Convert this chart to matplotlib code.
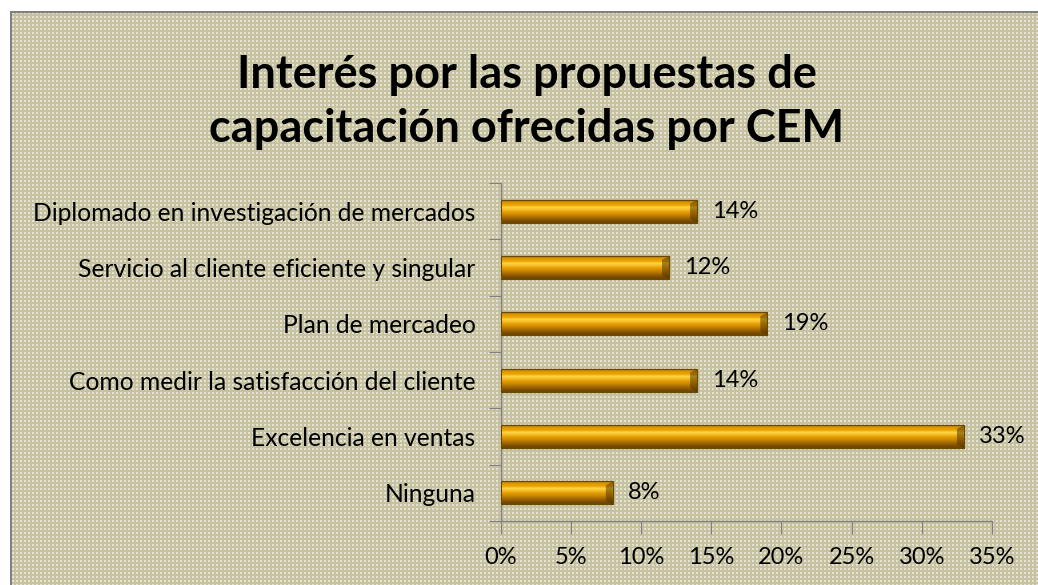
import numpy as np
import matplotlib.pyplot as plt
from matplotlib.colors import to_rgb
from matplotlib.patches import Polygon

# chart data (top to bottom as shown)
categories = [
    "Diplomado en investigación de mercados",
    "Servicio al cliente eficiente y singular",
    "Plan de mercadeo",
    "Como medir la satisfacción del cliente",
    "Excelencia en ventas",
    "Ninguna",
]
values = [0.14, 0.12, 0.19, 0.14, 0.33, 0.08]
value_labels = ["14%", "12%", "19%", "14%", "33%", "8%"]
xticks = [0, 0.05, 0.10, 0.15, 0.20, 0.25, 0.30, 0.35]
xtick_labels = ["0%", "5%", "10%", "15%", "20%", "25%", "30%", "35%"]
title = "Interés por las propuestas de\ncapacitación ofrecidas por CEM"

W, H = 1038, 585
plt.rcParams['font.family'] = ['Lato', 'DejaVu Sans']

fig = plt.figure(figsize=(W / 100, H / 100), dpi=100, facecolor='white')

# textured beige background with a grey frame
bg = np.ones((H, W, 3))
base = np.array([198, 193, 158]) / 255
dot = np.array([228, 226, 210]) / 255
bg[11:, 10:] = base
yy, xx = np.mgrid[0:H, 0:W]
mask = (yy >= 13) & (xx >= 12) & (yy % 4 < 2) & (xx % 4 < 2)
bg[mask] = dot
grey = np.array([128, 128, 128]) / 255
bg[11:13, 10:] = grey
bg[11:, 10:12] = grey
fig.figimage(bg, 0, 0, zorder=-5)

ax = fig.add_axes([500.5 / W, (H - 521) / H, 491.5 / W, 338 / H])
ax.set_facecolor('none')
ax.set_zorder(1)

n = len(categories)
ypos = np.arange(n)[::-1]
bar_h = 0.41

# vertical gradient of the bevelled gold bars (top -> bottom)
grad_cols = ["#b27800", "#dc9600", "#eaa600", "#ffd444", "#f4ba22",
             "#e39c00", "#cc8800", "#ad7000", "#8e5a00", "#704600"]
grad = np.array([to_rgb(c) for c in grad_cols])[:, None, :]

bars = ax.barh(ypos, values, height=bar_h, color='#d89400',
               edgecolor='#6b4800', linewidth=0.8, zorder=2)
px = 0.35 / 491.5
for b, v, y, lab in zip(bars, values, ypos, value_labels):
    im = ax.imshow(grad, extent=(0, v, y - bar_h / 2, y + bar_h / 2),
                   aspect='auto', interpolation='bilinear', zorder=3)
    im.set_clip_path(b)
    # dark bevel at the right end
    bev = Polygon([(v - 7 * px, y + bar_h / 2 - 0.07),
                   (v, y + bar_h / 2), (v, y - bar_h / 2),
                   (v - 7 * px, y - bar_h / 2 + 0.07)],
                  closed=True, facecolor='#4a3000', alpha=0.5,
                  edgecolor='none', zorder=4)
    ax.add_patch(bev)
    ax.add_patch(plt.Rectangle((0, y - bar_h / 2), v, bar_h, fill=False,
                               edgecolor='#6b4800', linewidth=0.8, zorder=5))
    ax.text(v + 0.0105, y, lab, va='center', ha='left',
            fontsize=17, color='black', zorder=6)

ax.set_xlim(0, 0.35)
ax.set_ylim(-0.5, n - 0.5)

ax.set_xticks(xticks)
ax.set_xticklabels(xtick_labels, fontsize=17)
ax.set_yticks(np.arange(n + 1) - 0.5)
ax.set_yticklabels([])
ax.set_yticks(ypos, minor=True)
ax.set_yticklabels(categories, minor=True, fontsize=17.7)
ax.tick_params(axis='y', which='minor', length=0, pad=18)
ax.tick_params(axis='y', which='major', length=9, color='#808080', direction='out')
ax.tick_params(axis='x', length=9, color='#808080', direction='out', pad=10)

for s in ['top', 'right']:
    ax.spines[s].set_visible(False)
for s in ['left', 'bottom']:
    ax.spines[s].set_color('#808080')
    ax.spines[s].set_linewidth(1.0)

fig.text(527 / W, 1 - 102 / H, title, ha='center', va='center',
         fontsize=32.5, fontweight='bold', linespacing=1.33)

fig.savefig('out.png', dpi=100)
